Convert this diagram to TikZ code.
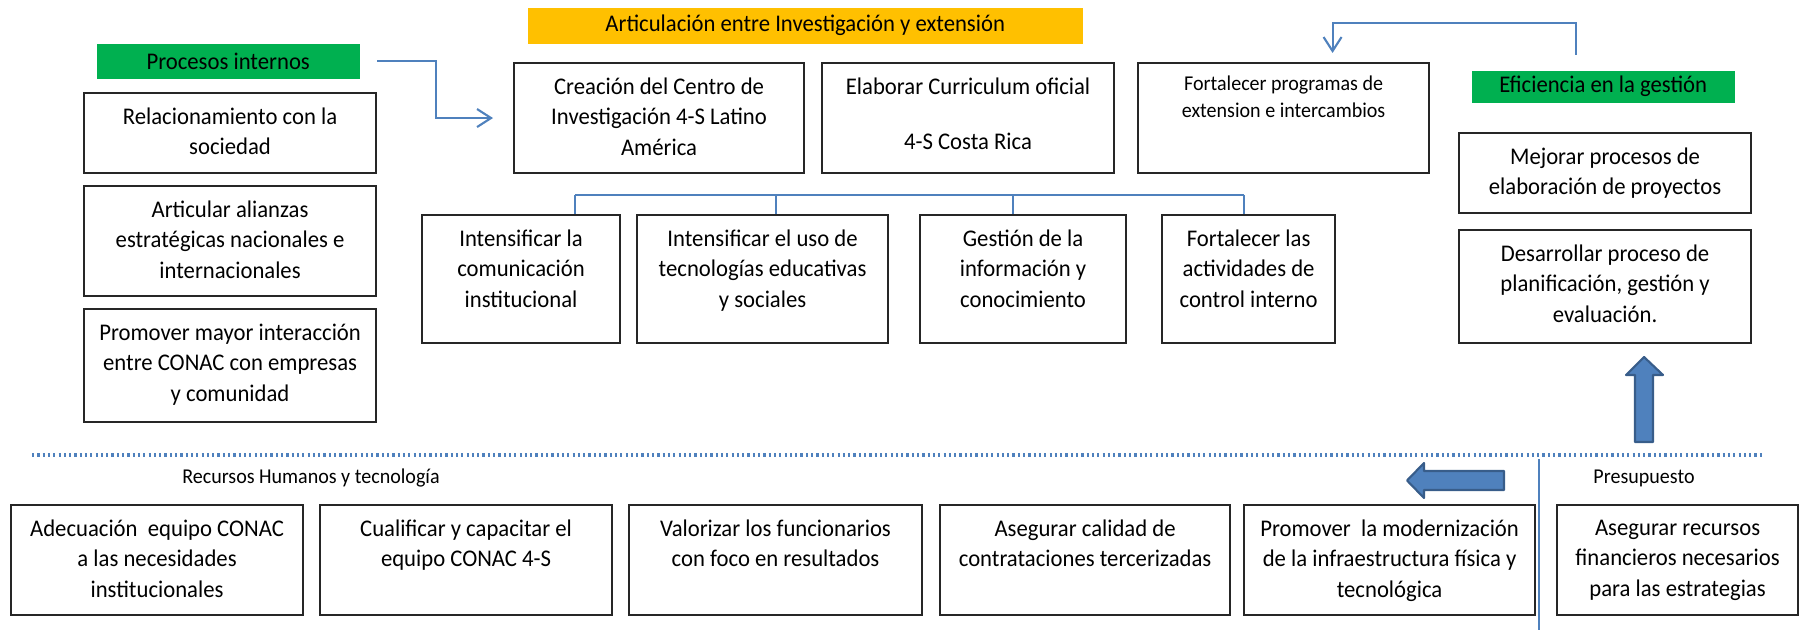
\documentclass[tikz,border=0pt]{standalone}
\usepackage{fontspec}
\setmainfont{Carlito}[FakeStretch=0.95]
\usetikzlibrary{arrows.meta}
\definecolor{verde}{HTML}{00B050}
\definecolor{amarillo}{HTML}{FFC000}
\definecolor{azul}{HTML}{4F81BD}
\definecolor{azulflecha}{HTML}{4F81BD}
\definecolor{bordeflecha}{HTML}{385D8A}
\tikzset{
  caja/.style={draw=black!85, line width=0.6pt, anchor=north west, inner sep=0pt},
  texto/.style={anchor=north, yshift=-1.5mm, align=center, inner sep=0pt, font=\fontsize{6.8}{8.7}\selectfont},
  chico/.style={align=center, inner sep=0pt, font=\fontsize{6}{7.7}\selectfont},
  titulo/.style={anchor=north west, inner sep=0pt, font=\fontsize{6.8}{8.7}\selectfont},
  linea/.style={azul, line width=0.6pt},
  enlace/.style={linea, -{Straight Barb[length=1.4mm,width=1.8mm]}},
  flecha/.style={fill=azulflecha, draw=bordeflecha, line width=0.6pt, line join=round},
  punteado/.style={azul, line width=0.9pt, dash pattern=on 0.22mm off 0.31mm}
}
\begin{document}
\begin{tikzpicture}[x=0.1mm, y=-0.1mm]
\useasboundingbox (0,0) rectangle (1800,630);

% encabezados
\node[titulo, fill=amarillo, minimum width=55.5mm, minimum height=3.6mm] (invext) at (527,7) {Articulación entre Investigación y extensión};
\node[titulo, fill=verde, minimum width=26.3mm, minimum height=3.5mm] (pi) at (96,43) {Procesos internos};
\node[titulo, fill=verde, minimum width=26.3mm, minimum height=3.2mm] (efic) at (1471,70) {Eficiencia en la gestión};

% procesos internos
\node[caja, minimum width=29.2mm, minimum height=8mm] (relac) at (83,92) {};
\node[texto] (relac-t) at (relac.north) {Relacionamiento con la\\sociedad};
\node[caja, minimum width=29.2mm, minimum height=11mm] (artic) at (83,185) {};
\node[texto] (artic-t) at (artic.north) {Articular alianzas\\estratégicas nacionales e\\internacionales};
\node[caja, minimum width=29.2mm, minimum height=11.3mm] (promo) at (83,308) {};
\node[texto] (promo-t) at (promo.north) {Promover mayor interacción\\entre CONAC con empresas\\y comunidad};

% investigacion y extension
\node[caja, minimum width=29mm, minimum height=11mm] (crea) at (513,62) {};
\node[texto] (crea-t) at (crea.north) {Creación del Centro de\\Investigación 4-S Latino\\América};
\node[caja, minimum width=29.2mm, minimum height=11mm] (elab) at (821,62) {};
\node[texto] (elab-t) at (elab.north) {Elaborar Curriculum oficial\\[7pt]4-S Costa Rica};
\node[caja, minimum width=29.1mm, minimum height=11mm] (fortprog) at (1137,62) {};
\node[chico, anchor=north, yshift=-1.3mm] (fortprog-t) at (fortprog.north) {Fortalecer programas de\\extension e intercambios};

\node[caja, minimum width=19.8mm, minimum height=12.8mm] (intla) at (421,214) {};
\node[texto] (intla-t) at (intla.north) {Intensificar la\\comunicación\\institucional};
\node[caja, minimum width=25.1mm, minimum height=12.8mm] (intuso) at (636,214) {};
\node[texto] (intuso-t) at (intuso.north) {Intensificar el uso de\\tecnologías educativas\\y sociales};
\node[caja, minimum width=20.6mm, minimum height=12.8mm] (gest) at (919,214) {};
\node[texto] (gest-t) at (gest.north) {Gestión de la\\información y\\conocimiento};
\node[caja, minimum width=17.3mm, minimum height=12.8mm] (fortlas) at (1161,214) {};
\node[texto] (fortlas-t) at (fortlas.north) {Fortalecer las\\actividades de\\control interno};

% eficiencia
\node[caja, minimum width=29.2mm, minimum height=8mm] (mejor) at (1458,132) {};
\node[texto] (mejor-t) at (mejor.north) {Mejorar procesos de\\elaboración de proyectos};
\node[caja, minimum width=29.2mm, minimum height=11.3mm] (desar) at (1458,229) {};
\node[texto] (desar-t) at (desar.north) {Desarrollar proceso de\\planificación, gestión y\\evaluación.};

% recursos y presupuesto
\node[chico] (rrhh) at (311,478) {Recursos Humanos y tecnología};
\node[chico] (presup) at (1644,478) {Presupuesto};
\node[caja, minimum width=29.2mm, minimum height=11mm] (adecu) at (10,504) {};
\node[texto] (adecu-t) at (adecu.north) {Adecuación \ equipo CONAC\\a las necesidades\\institucionales};
\node[caja, minimum width=29.2mm, minimum height=11mm] (cualif) at (319,504) {};
\node[texto] (cualif-t) at (cualif.north) {Cualificar y capacitar el\\equipo CONAC 4-S};
\node[caja, minimum width=29.3mm, minimum height=11mm] (valor) at (628,504) {};
\node[texto] (valor-t) at (valor.north) {Valorizar los funcionarios\\con foco en resultados};
\node[caja, minimum width=29mm, minimum height=11mm] (asegcal) at (939,504) {};
\node[texto] (asegcal-t) at (asegcal.north) {Asegurar calidad de\\contrataciones tercerizadas};
\node[caja, minimum width=29.1mm, minimum height=11mm] (promod) at (1243,504) {};
\node[texto] (promod-t) at (promod.north) {Promover \ la modernización\\de la infraestructura física y\\tecnológica};
\node[caja, minimum width=24.1mm, minimum height=11mm] (asegrec) at (1556,504) {};
\node[texto] (asegrec-t) at (asegrec.north) {Asegurar recursos\\financieros necesarios\\para las estrategias};

% conectores
\draw[enlace] ([xshift=1.7mm]pi.east) -- ++(59,0) |- ([xshift=-2mm]crea.west);
\draw[enlace] ([xshift=-2.7mm,yshift=1.5mm]efic.north) -- ++(0,-32) -| ([xshift=4.9mm,yshift=0.9mm]fortprog.north);
\coordinate (bus1) at (575,195);
\coordinate (bus2) at (776,195);
\coordinate (bus3) at (1013,195);
\coordinate (bus4) at (1244,195);
\draw[linea] (bus1) -- (bus4);
\foreach \b/\c in {bus1/intla, bus2/intuso, bus3/gest, bus4/fortlas}
  \draw[linea] (\b) -- (\b |- \c.north);

% separadores y flechas
\draw[punteado] (32,455) -- (1764,455);
\draw[linea] (1539,459) -- (1539,630);
\filldraw[flecha] (1635,442) -- (1653,442) -- (1653,375) -- (1663,375) -- (1644,357) -- (1626,375) -- (1635,375) -- cycle;
\filldraw[flecha] (1504,471) -- (1504,490) -- (1424,490) -- (1424,498) -- (1407,480.5) -- (1424,463) -- (1424,471) -- cycle;
\end{tikzpicture}
\end{document}
